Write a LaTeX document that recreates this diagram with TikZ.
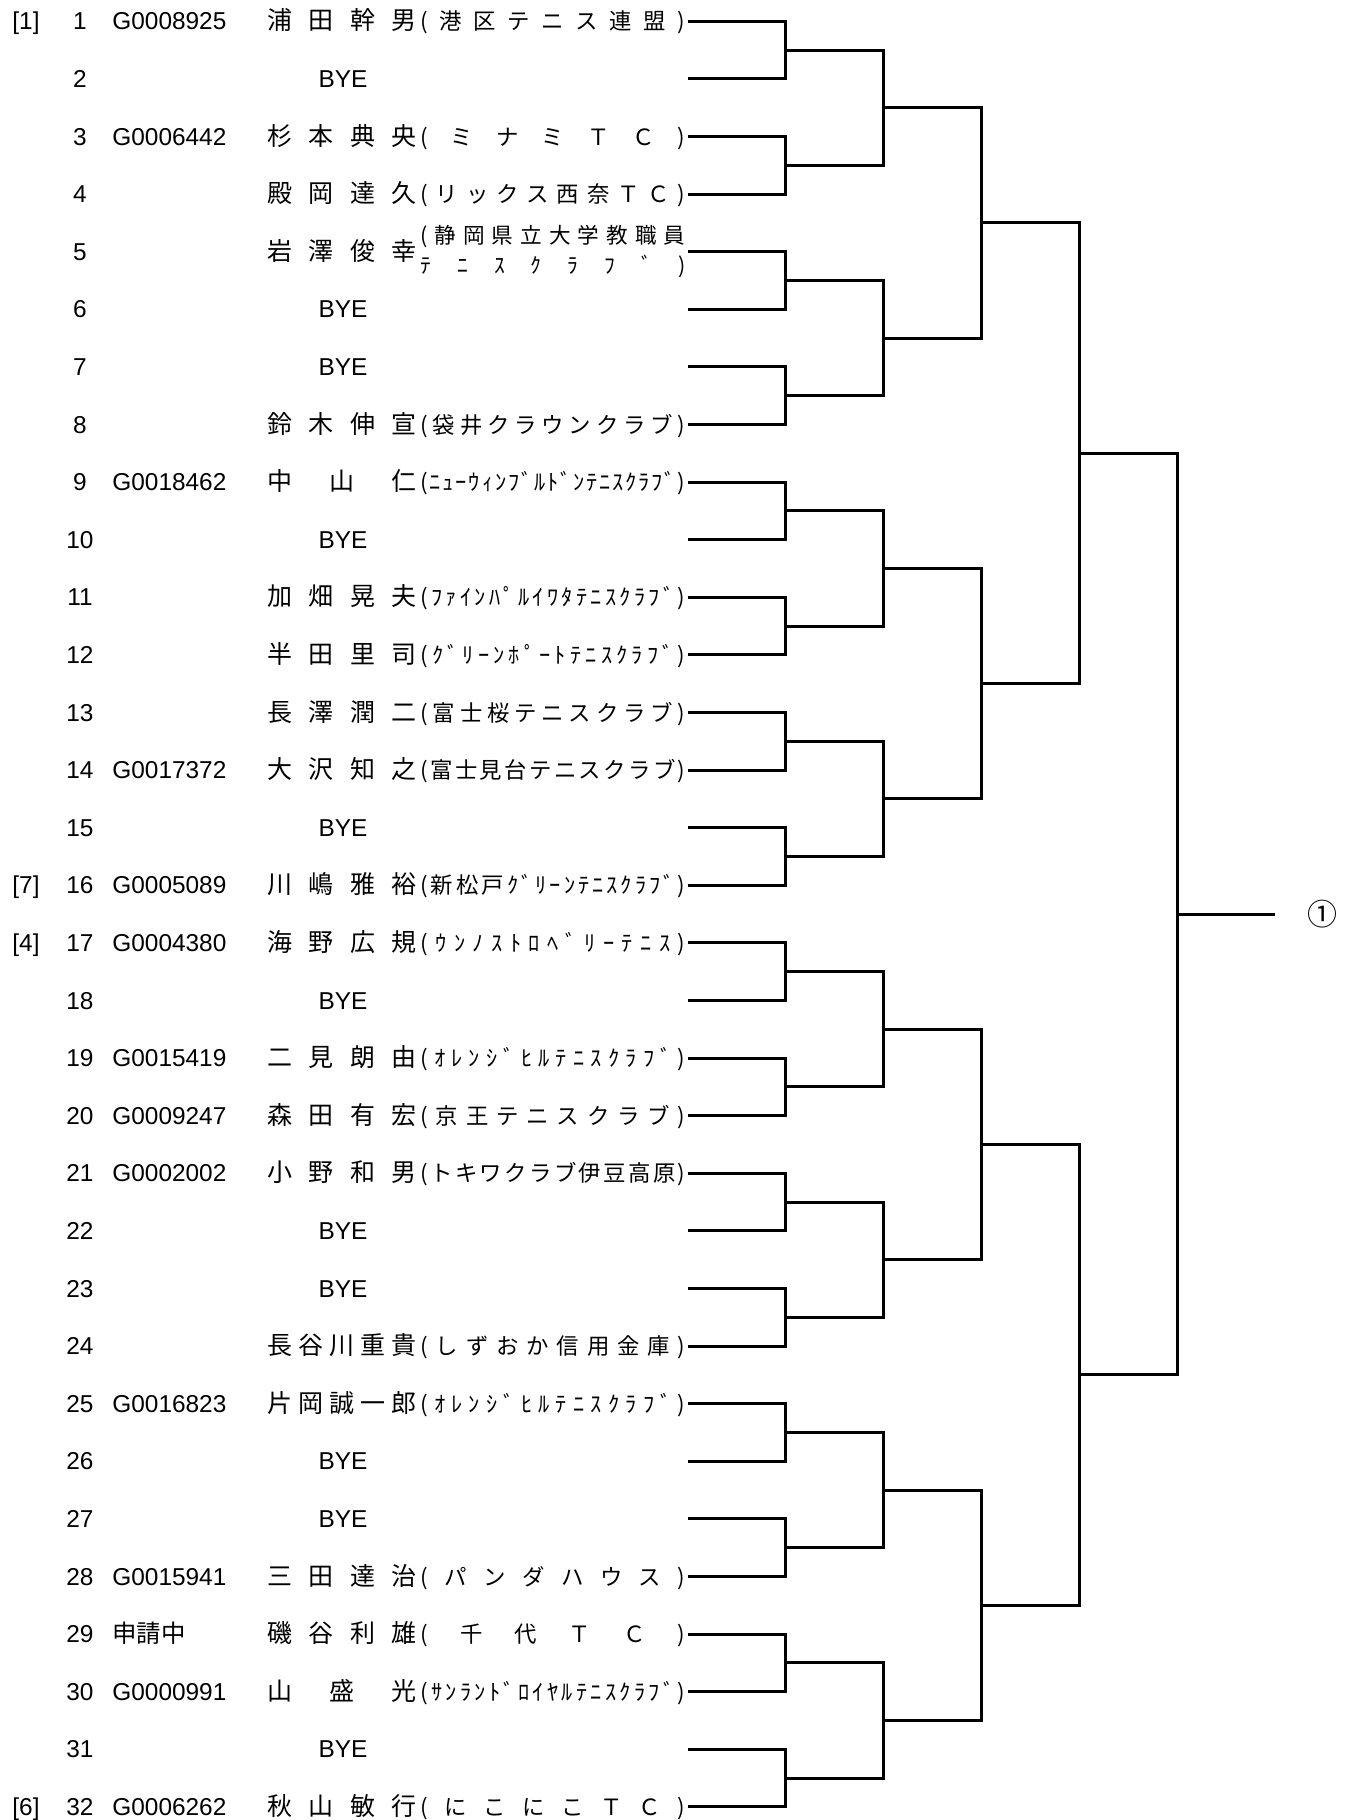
\documentclass[tikz,border=0pt]{standalone}
\usepackage{fontspec}
\usepackage{graphicx}
\setmainfont{Liberation Sans}
\newfontfamily\cjk{Noto Sans CJK JP}

% spread the characters of a word over its box
\def\spaced#1{\spacedA#1\relax}
\def\spacedA#1#2{#1\ifx\relax#2\else\hfill\expandafter\spacedA\expandafter#2\fi}

\newlength\natw
\newcommand\clubtext[1]{%
  \settowidth\natw{(#1)}%
  \ifdim\natw>132.5pt
    \pgfmathsetmacro\clubsx{132.5pt/\natw}%
    \scalebox{\clubsx}[1]{(#1)}%
  \else
    \makebox[132.5pt][s]{(\hfill\spaced{#1}\hfill)}%
  \fi}

% row, seed, id, name, club
\newcommand\entry[5]{%
  \pgfmathsetmacro\rowbase{21.3+57.6*(#1-1)+8.5}
  \if\relax\detokenize{#2}\relax\else
    \node[lat,anchor=base] (sd#1) at (26,\rowbase) {#2};\fi
  \node[lat,anchor=base] (no#1) at (80,\rowbase) {#1};
  \if\relax\detokenize{#3}\relax\else
    \node[lat,anchor=base west] (id#1) at (112,\rowbase) {#3};\fi
  \node[jname,anchor=base west] (nm#1) at (267,\rowbase) {\makebox[74.5pt][s]{\spaced{#4}}};
  \if\relax\detokenize{#5}\relax\else
    \node[jclub,anchor=base west] (cl#1) at (420,\rowbase) {\clubtext{#5}};\fi
}
\newcommand\byeentry[1]{%
  \pgfmathsetmacro\rowbase{21.3+57.6*(#1-1)+8.5}
  \node[lat,anchor=base] (no#1) at (80,\rowbase) {#1};
  \node[lat,anchor=base] (bye#1) at (343,\rowbase) {BYE};
}

\begin{document}
\begin{tikzpicture}
  [x=0.5pt, y=-0.5pt,
   lat/.style={inner sep=0pt, font=\fontsize{12.2pt}{14pt}\selectfont},
   jname/.style={inner sep=0pt, font=\cjk\fontsize{12.5pt}{15pt}\selectfont},
   jclub/.style={inner sep=0pt, font=\cjk\fontsize{11.2pt}{13pt}\selectfont},
   grow=left, level distance=48.9pt,
   level 1/.style={sibling distance=460.8pt},
   level 2/.style={sibling distance=230.4pt},
   level 3/.style={sibling distance=115.2pt},
   level 4/.style={sibling distance=57.6pt},
   level 5/.style={sibling distance=28.8pt},
   every child node/.style={coordinate},
   edge from parent/.style={draw, line width=1.5pt},
   edge from parent path={(\tikzparentnode) |- (\tikzchildnode)}]
  \useasboundingbox (0,0) rectangle (1351,1820);

  % draw
  \node[coordinate] (top) at (1177,914.1) {}
    child foreach \a in {1,2} {node {}
      child foreach \b in {1,2} {node {}
        child foreach \c in {1,2} {node {}
          child foreach \d in {1,2} {node {}
            child foreach \e in {1,2} {node {}}}}}};
  \coordinate (fin) at (1275,914.1);
  \draw[line width=1.5pt] (top) -- (fin);
  \node[inner sep=0pt, font=\cjk\fontsize{15pt}{17pt}\selectfont] (champ) at (1322,914.1) {①};

  \entry{1}{[1]}{G0008925}{浦田幹男}{港区テニス連盟}
  \byeentry{2}
  \entry{3}{}{G0006442}{杉本典央}{ミナミＴＣ}
  \entry{4}{}{}{殿岡達久}{リックス西奈ＴＣ}
  \entry{5}{}{}{岩澤俊幸}{}
  \node[jclub, font=\cjk\fontsize{10.8pt}{12pt}\selectfont, anchor=west] (cl5a) at (420,236)
    {\makebox[132.5pt][s]{(\hfill\spaced{静岡県立大学教職員}}};
  \node[jclub, font=\cjk\fontsize{10.8pt}{12pt}\selectfont, anchor=west] (cl5b) at (420,266)
    {\makebox[132.5pt][s]{\spaced{ﾃﾆｽｸﾗﾌﾞ}\hfill)}};
  \byeentry{6}
  \byeentry{7}
  \entry{8}{}{}{鈴木伸宣}{袋井クラウンクラブ}
  \entry{9}{}{G0018462}{中山仁}{ﾆｭｰｳｨﾝﾌﾞﾙﾄﾞﾝﾃﾆｽｸﾗﾌﾞ}
  \byeentry{10}
  \entry{11}{}{}{加畑晃夫}{ﾌｧｲﾝﾊﾟﾙｲﾜﾀﾃﾆｽｸﾗﾌﾞ}
  \entry{12}{}{}{半田里司}{ｸﾞﾘｰﾝﾎﾟｰﾄﾃﾆｽｸﾗﾌﾞ}
  \entry{13}{}{}{長澤潤二}{富士桜テニスクラブ}
  \entry{14}{}{G0017372}{大沢知之}{富士見台テニスクラブ}
  \byeentry{15}
  \entry{16}{[7]}{G0005089}{川嶋雅裕}{新松戸ｸﾞﾘｰﾝﾃﾆｽｸﾗﾌﾞ}
  \entry{17}{[4]}{G0004380}{海野広規}{ｳﾝﾉｽﾄﾛﾍﾞﾘｰﾃﾆｽ}
  \byeentry{18}
  \entry{19}{}{G0015419}{二見朗由}{ｵﾚﾝｼﾞﾋﾙﾃﾆｽｸﾗﾌﾞ}
  \entry{20}{}{G0009247}{森田有宏}{京王テニスクラブ}
  \entry{21}{}{G0002002}{小野和男}{トキワクラブ伊豆高原}
  \byeentry{22}
  \byeentry{23}
  \entry{24}{}{}{長谷川重貴}{しずおか信用金庫}
  \entry{25}{}{G0016823}{片岡誠一郎}{ｵﾚﾝｼﾞﾋﾙﾃﾆｽｸﾗﾌﾞ}
  \byeentry{26}
  \byeentry{27}
  \entry{28}{}{G0015941}{三田達治}{パンダハウス}
  \entry{29}{}{{\cjk 申請中}}{磯谷利雄}{千代ＴＣ}
  \entry{30}{}{G0000991}{山盛光}{ｻﾝﾗﾝﾄﾞﾛｲﾔﾙﾃﾆｽｸﾗﾌﾞ}
  \byeentry{31}
  \entry{32}{[6]}{G0006262}{秋山敏行}{にこにこＴＣ}
\end{tikzpicture}
\end{document}
